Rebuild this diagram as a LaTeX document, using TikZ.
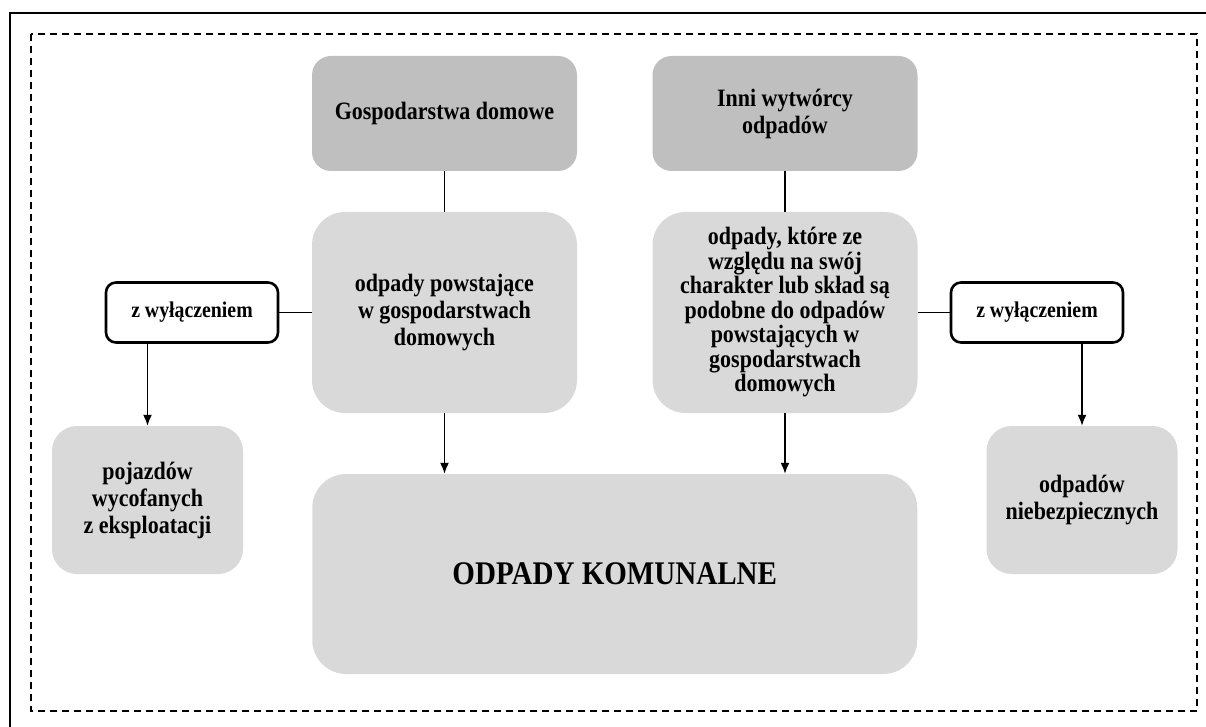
\documentclass[tikz,border=0pt]{standalone}
\usepackage{fontspec}
\setmainfont{Liberation Serif}[FakeStretch=0.88]
\usepackage{tikz}
\usetikzlibrary{arrows.meta}
\definecolor{srcgray}{HTML}{BFBFBF}
\definecolor{wastegray}{HTML}{D9D9D9}
\newcommand\boxfont{\fontsize{25}{27}\selectfont\bfseries}
\newcommand\simfont{\fontsize{25}{24.5}\selectfont\bfseries}
\newcommand\komfont{\fontsize{33}{38}\selectfont\bfseries}

\begin{document}
\begin{tikzpicture}[x=1pt,y=-1pt]
      \tikzset{
        src/.style={rectangle, fill=srcgray, rounded corners=19pt, minimum width=265pt, minimum height=115pt, align=center, font=\boxfont},
        waste/.style={rectangle, fill=wastegray, rounded corners=33pt, minimum width=265pt, minimum height=201pt, align=center, font=\boxfont},
        excl/.style={draw, rectangle, fill=white, line width=2.6pt, rounded corners=10pt, minimum width=172pt, minimum height=60pt, font=\fontsize{22.5}{26}\selectfont\bfseries},
        side/.style={rectangle, fill=wastegray, rounded corners=25pt, minimum width=191pt, minimum height=148pt, align=center, font=\boxfont},
        mainbox/.style={rectangle, fill=wastegray, rounded corners=34pt, minimum width=605pt, minimum height=200pt, font=\komfont},
        link/.style={draw, line width=1.6pt},
        line/.style={draw, line width=1.6pt, -{Latex[length=11pt,width=9pt]}},
      }
      \useasboundingbox (0,0) rectangle (1206,727);
      \draw [line width=2pt] (10,727) -- (10,13) -- (1206,13);
      \draw [line width=1.6pt, dash pattern=on 7pt off 5pt] (31,34) rectangle (1197,711);

      \node [src] (gosp) at (444.5,113.5) {Gospodarstwa domowe};
      \node [src, right of=gosp, node distance=340.5pt] (inni) {Inni wytwórcy\\odpadów};
      \node [waste, below of=gosp, node distance=199pt] (hh) {odpady powstające\\w gospodarstwach\\domowych};
      \node [waste, below of=inni, node distance=199pt, font=\simfont] (sim) {odpady, które ze\\względu na swój\\charakter lub skład są\\podobne do odpadów\\powstających w\\gospodarstwach\\domowych};
      \node [excl, left of=hh, node distance=252.5pt] (exl) {z wyłączeniem};
      \node [excl, right of=sim, node distance=252pt] (exr) {z wyłączeniem};
      \node [side] (veh) at (147.5,500) {pojazdów\\wycofanych\\z eksploatacji};
      \node [side] (haz) at (1082,500) {odpadów\\niebezpiecznych};
      \node [mainbox] (kom) at (614.75,574) {ODPADY KOMUNALNE};

      \path [link] (gosp)--(hh);
      \path [link] (inni)--(sim);
      \path [link] (hh)--(exl);
      \path [link] (sim)--(exr);
      \path [line] (exl.south -| veh)--(veh);
      \path [line] (exr.south -| haz)--(haz);
      \path [line] (hh)--(hh |- kom.north);
      \path [line] (sim)--(sim |- kom.north);
\end{tikzpicture}
\end{document}
